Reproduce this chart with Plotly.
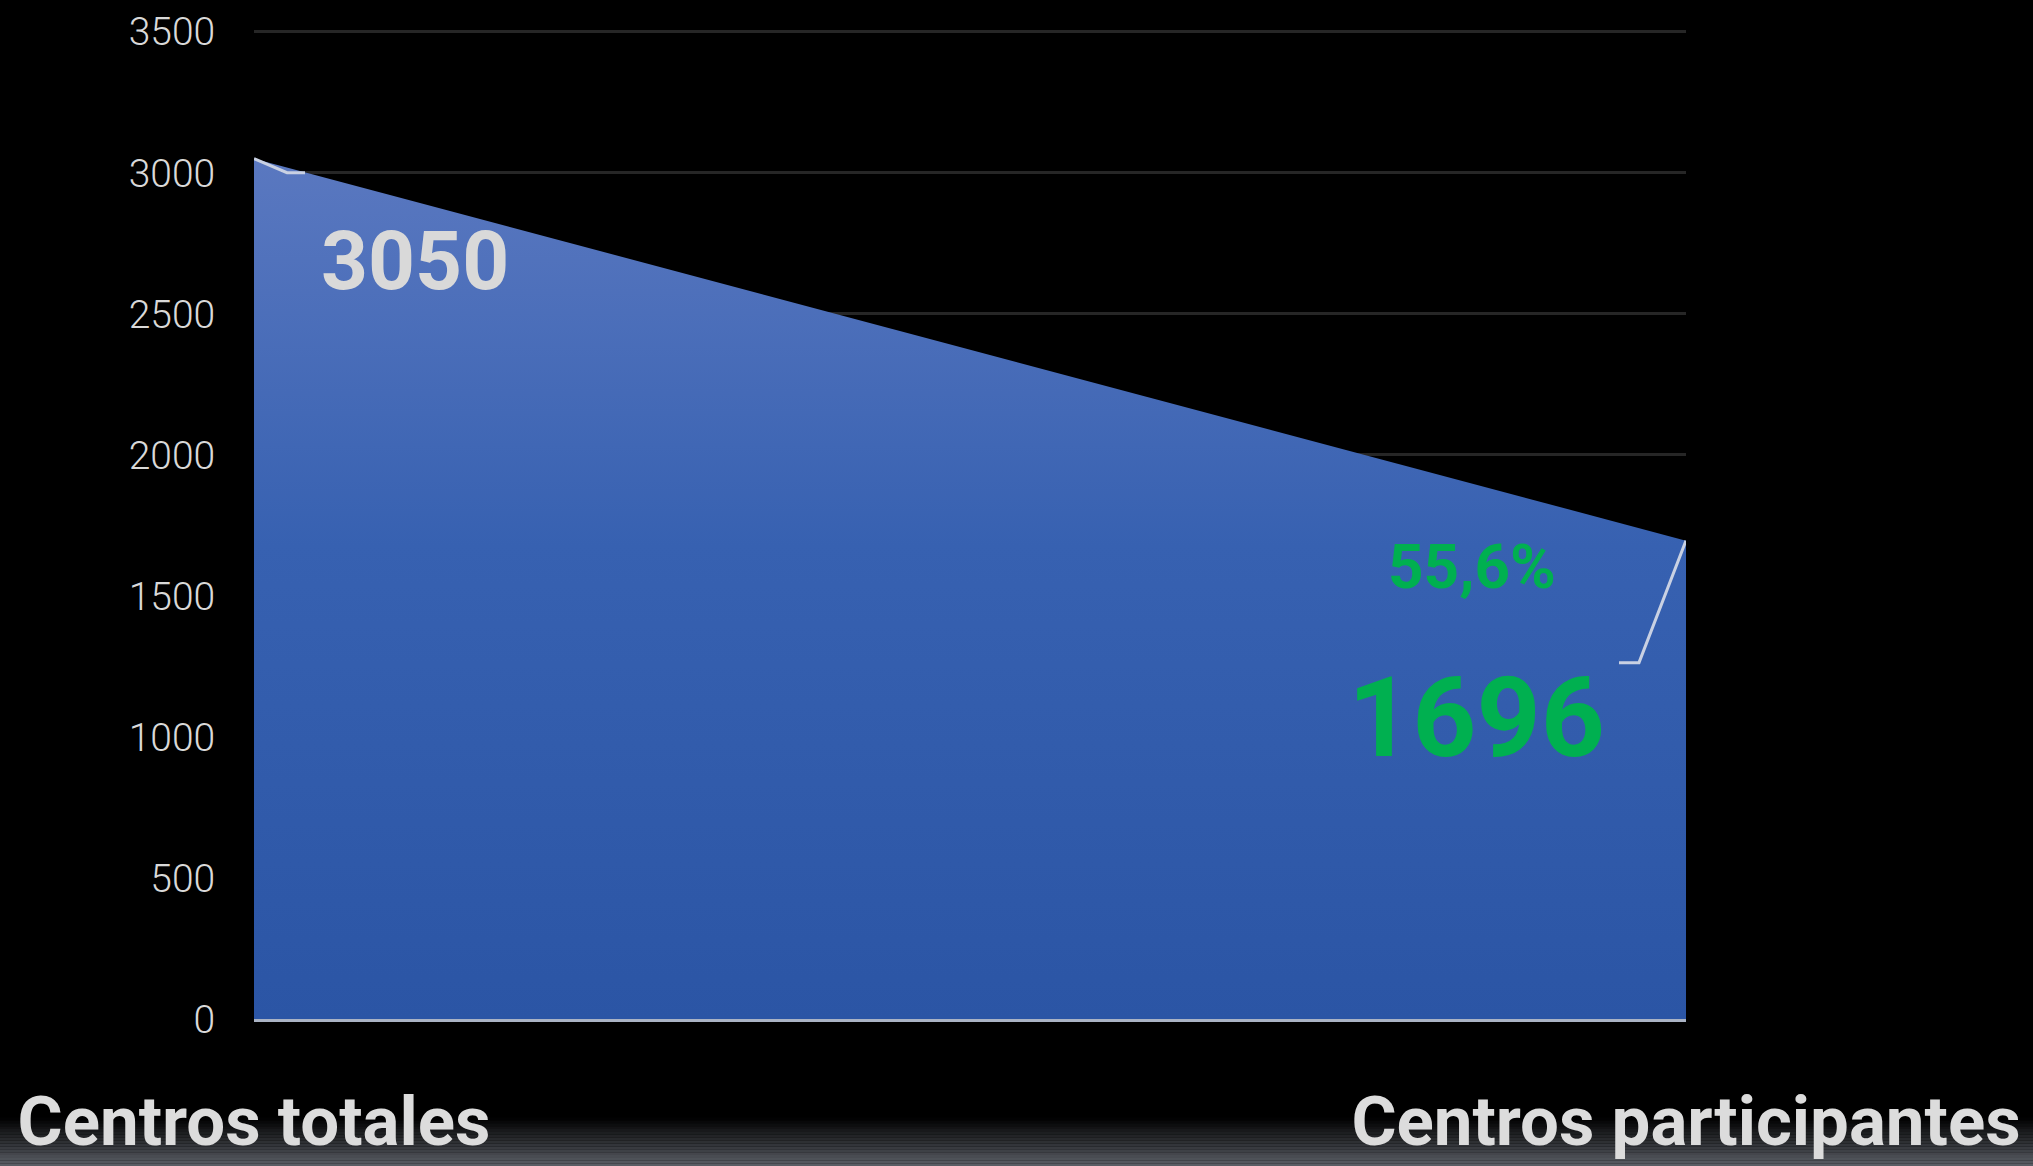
import plotly.graph_objects as go

categories = ["Centros totales", "Centros participantes"]
values = [3050, 1696]
y_ticks = [0, 500, 1000, 1500, 2000, 2500, 3000, 3500]

pct = values[1] / values[0] * 100
pct_text = f"{pct:.1f}%".replace(".", ",")

FONT = "Roboto, Liberation Sans, sans-serif"

fig = go.Figure()
fig.add_trace(go.Scatter(
    x=categories, y=values, mode="lines", line=dict(width=0, color="#3a63b3"),
    fill="tozeroy",
    fillgradient=dict(type="vertical",
                      colorscale=[[0, "#2b55a5"], [0.55, "#3761b1"], [1, "#5a78c0"]]),
    hoverinfo="skip", showlegend=False,
))

# value labels
fig.add_annotation(x=categories[0], y=values[0], text=f"<b>{values[0]}</b>", showarrow=False,
                   xshift=161, yshift=-102, font=dict(family=FONT, size=82, color="#d9d9d9"))
fig.add_annotation(x=categories[1], y=values[1], text=f"<b>{values[1]}</b>", showarrow=False,
                   xshift=-210, yshift=-177, font=dict(family=FONT, size=112, color="#00b050"))
fig.add_annotation(x=categories[1], y=values[1], text=f"<b>{pct_text}</b>", showarrow=False,
                   xshift=-214, yshift=-26, font=dict(family=FONT, size=62, color="#00b050"))

# leader lines
fig.add_shape(type="path", xref="x", yref="y", xsizemode="pixel", ysizemode="pixel",
              xanchor=categories[0], yanchor=values[0],
              path="M 0 0 L 33 -14 L 51 -14", line=dict(color="#c9d1e3", width=3))
fig.add_shape(type="path", xref="x", yref="y", xsizemode="pixel", ysizemode="pixel",
              xanchor=categories[1], yanchor=values[1],
              path="M 0 0 L -47 -122 L -67 -122", line=dict(color="#c9d1e3", width=3))

# bottom background gradient (black -> grey)
n = 18
y_top, y_bot = -0.0995, -0.152
for i in range(n):
    t = (i + 0.5) / n
    c = (int(t * 98), int(t * 102), int(t * 110))
    fig.add_shape(type="rect", xref="paper", yref="paper", layer="below",
                  x0=-0.3, x1=1.4, y0=y_top + (y_bot - y_top) * i / n,
                  y1=y_top + (y_bot - y_top) * (i + 1) / n,
                  line=dict(width=0), fillcolor=f"rgb{c}")

fig.update_layout(
    width=2033, height=1166,
    margin=dict(l=254, r=347, t=29, b=147),
    paper_bgcolor="black", plot_bgcolor="black",
    showlegend=False,
    xaxis=dict(type="category", range=[0, 1], showgrid=False, zeroline=False,
               automargin=False,
               showline=True, linecolor="#aab3c4", linewidth=3,
               ticks="outside", ticklen=40, tickcolor="rgba(0,0,0,0)",
               tickfont=dict(family=FONT, size=69, color="#dcdcdc", weight=700)),
    yaxis=dict(range=[0, 3510], tickvals=y_ticks, showgrid=True, gridcolor="#262626",
               gridwidth=3, zeroline=False, showline=False, automargin=False,
               ticks="outside", ticklen=30, tickcolor="rgba(0,0,0,0)",
               tickfont=dict(family=FONT, size=39, color="#d9d9d9", weight=300)),
)

fig.write_html("out.html", config={"displayModeBar": False},
               post_script="document.body.style.margin='0px';document.body.style.overflow='hidden';")
